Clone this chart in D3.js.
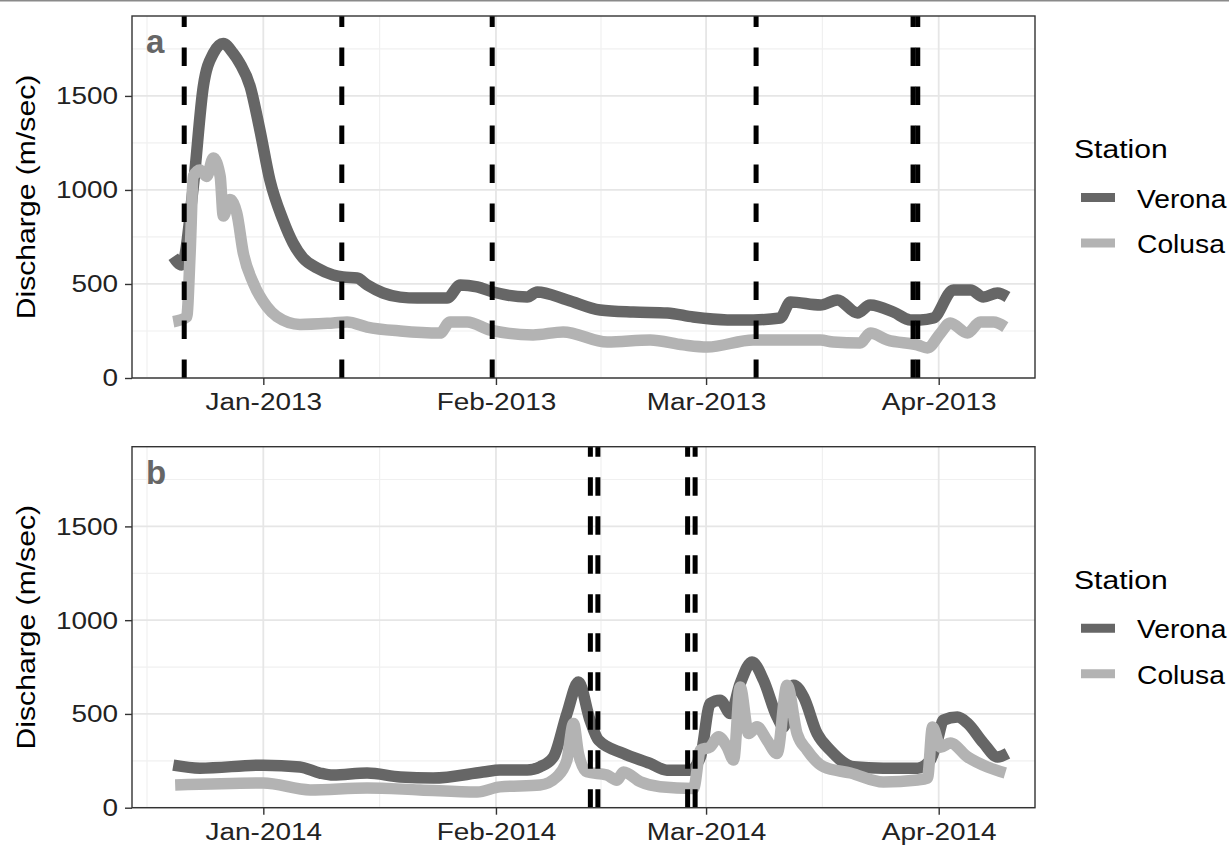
<!DOCTYPE html>
<meta charset="utf-8">
<head>
<title>Discharge</title>
<style>
body { margin: 0; background: #fff; }
svg { font-family: "Liberation Sans", Arial, sans-serif; }
</style>
</head>
<body>
<script src="https://d3js.org/d3.v7.min.js"></script>
<script>

// values: [date, discharge]
var stations = ["Verona", "Colusa"];
var stationColors = ["#666666", "#b3b3b3"];

var verona2013 = [
  ["2012-12-20T00", 645], ["2012-12-21T03", 601], ["2012-12-22T16", 1018], ["2012-12-24T00", 1550],
  ["2012-12-25T08", 1726], ["2012-12-26T16", 1779], ["2012-12-27T23", 1728], ["2012-12-28T21", 1673],
  ["2012-12-30T06", 1550], ["2012-12-31T13", 1319], ["2013-01-01T21", 1053], ["2013-01-03T15", 840],
  ["2013-01-04T23", 718], ["2013-01-06T07", 638], ["2013-01-08T04", 585], ["2013-01-10T07", 548],
  ["2013-01-11T15", 537], ["2013-01-13T12", 532], ["2013-01-14T20", 495], ["2013-01-16T23", 452],
  ["2013-01-19T06", 430], ["2013-01-21T12", 425], ["2013-01-25T12", 425], ["2013-01-27T06", 495],
  ["2013-01-29T12", 484], ["2013-01-31T15", 457], ["2013-02-05T04", 431], ["2013-02-06T12", 457],
  ["2013-02-10T12", 415], ["2013-02-14T21", 362], ["2013-02-19T07", 351], ["2013-02-23T20", 346],
  ["2013-02-27T07", 324], ["2013-03-03T20", 309], ["2013-03-07T07", 309], ["2013-03-10T21", 319],
  ["2013-03-12T06", 404], ["2013-03-16T06", 388], ["2013-03-18T12", 415], ["2013-03-21T04", 346],
  ["2013-03-22T21", 388], ["2013-03-25T23", 351], ["2013-03-28T06", 309], ["2013-03-29T13", 309],
  ["2013-03-31T07", 319], ["2013-04-02T23", 468], ["2013-04-05T06", 468], ["2013-04-06T23", 431],
  ["2013-04-08T20", 452], ["2013-04-10T04", 431]
];

var colusa2013 = [
  ["2012-12-20T00", 299], ["2012-12-21T19", 325], ["2012-12-22T06", 666], ["2012-12-22T16", 1072],
  ["2012-12-23T13", 1106], ["2012-12-24T11", 1072], ["2012-12-25T08", 1170], ["2012-12-26T06", 1072],
  ["2012-12-26T16", 861], ["2012-12-27T13", 949], ["2012-12-28T11", 878], ["2012-12-29T08", 664],
  ["2012-12-30T16", 505], ["2013-01-01T11", 380], ["2013-01-02T19", 327], ["2013-01-05T21", 285],
  ["2013-01-10T07", 293], ["2013-01-12T04", 298], ["2013-01-14T20", 271], ["2013-01-19T06", 250],
  ["2013-01-24T13", 239], ["2013-01-25T21", 298], ["2013-01-28T04", 298], ["2013-01-31T06", 255],
  ["2013-02-05T23", 229], ["2013-02-09T23", 245], ["2013-02-15T20", 191], ["2013-02-21T13", 202],
  ["2013-02-25T23", 176], ["2013-03-01T04", 165], ["2013-03-07T07", 202], ["2013-03-10T12", 202],
  ["2013-03-16T06", 202], ["2013-03-17T23", 191], ["2013-03-21T13", 186], ["2013-03-22T21", 239],
  ["2013-03-25T04", 202], ["2013-03-29T04", 176], ["2013-03-30T12", 160], ["2013-04-01T06", 239],
  ["2013-04-02T13", 293], ["2013-04-04T20", 239], ["2013-04-06T13", 298], ["2013-04-08T07", 298],
  ["2013-04-09T21", 271]
];

var verona2014 = [
  ["2013-12-20T00", 227], ["2013-12-23T13", 211], ["2013-12-31T23", 227], ["2014-01-05T21", 217],
  ["2014-01-08T13", 185], ["2014-01-10T07", 174], ["2014-01-14T20", 185], ["2014-01-19T06", 164],
  ["2014-01-23T15", 158], ["2014-01-30T07", 190], ["2014-02-01T13", 201], ["2014-02-05T04", 201],
  ["2014-02-06T21", 218], ["2014-02-08T16", 271], ["2014-02-10T11", 502], ["2014-02-12T00", 670],
  ["2014-02-13T13", 466], ["2014-02-14T16", 360], ["2014-02-18T00", 289], ["2014-02-21T13", 236],
  ["2014-02-23T19", 200], ["2014-02-26T21", 200], ["2014-02-28T06", 271], ["2014-03-01T13", 555],
  ["2014-03-02T21", 573], ["2014-03-04T06", 502], ["2014-03-05T13", 661], ["2014-03-07T03", 777],
  ["2014-03-08T16", 679], ["2014-03-10T11", 484], ["2014-03-11T08", 431], ["2014-03-12T16", 653],
  ["2014-03-14T00", 590], ["2014-03-15T19", 396], ["2014-03-17T13", 307], ["2014-03-20T16", 218],
  ["2014-03-24T15", 211], ["2014-03-29T04", 211], ["2014-03-30T21", 254], ["2014-03-31T20", 360],
  ["2014-04-01T15", 467], ["2014-04-03T12", 483], ["2014-04-04T20", 451], ["2014-04-06T23", 345],
  ["2014-04-08T20", 271], ["2014-04-10T04", 290]
];

var colusa2014 = [
  ["2013-12-20T06", 121], ["2014-01-01T00", 132], ["2014-01-07T06", 95], ["2014-01-14T20", 105],
  ["2014-01-21T21", 95], ["2014-01-29T12", 84], ["2014-02-01T13", 111], ["2014-02-06T21", 121],
  ["2014-02-09T03", 165], ["2014-02-10T11", 254], ["2014-02-11T08", 449], ["2014-02-12T00", 289],
  ["2014-02-13T03", 191], ["2014-02-15T19", 174], ["2014-02-17T03", 147], ["2014-02-18T00", 191],
  ["2014-02-20T06", 138], ["2014-02-22T21", 112], ["2014-02-27T08", 103], ["2014-02-28T06", 307],
  ["2014-03-01T13", 324], ["2014-03-02T16", 378], ["2014-03-03T19", 324], ["2014-03-04T16", 254],
  ["2014-03-05T13", 644], ["2014-03-06T16", 396], ["2014-03-07T19", 431], ["2014-03-09T03", 360],
  ["2014-03-10T11", 289], ["2014-03-11T19", 653], ["2014-03-13T03", 396], ["2014-03-14T11", 307],
  ["2014-03-16T16", 218], ["2014-03-20T06", 185], ["2014-03-24T15", 137], ["2014-03-29T04", 148],
  ["2014-03-30T12", 158], ["2014-03-31T04", 430], ["2014-04-01T06", 323], ["2014-04-02T13", 345],
  ["2014-04-04T20", 271], ["2014-04-07T12", 217], ["2014-04-09T21", 185]
];

// sampling events (dashed vertical lines)
var events2013 = ["2012-12-21T11", "2013-01-11T11", "2013-01-31T12", "2013-03-07T16", "2013-03-28T14", "2013-03-29T05"];
var events2014 = ["2014-02-13T14", "2014-02-14T14", "2014-02-26T13", "2014-02-27T13"];

var yTicks = [0, 500, 1000, 1500];
var yMinor = [250, 750, 1250, 1750];
var yMax = 1925;

var parseT = d3.timeParse("%Y-%m-%dT%H");

var svg = d3.select("body")
    .append("svg")
    .attr("width", 1229)
    .attr("height", 846);

// thin rule at the very top of the figure
svg.append("line")
    .attr("x1", 0).attr("x2", 1229)
    .attr("y1", 0.8).attr("y2", 0.8)
    .attr("stroke", "#8a8a8a")
    .attr("stroke-width", 1.6);

var left = 132, right = 1035;

function drawPanel(top, bottom, label, domain, series, events) {
  var x = d3.scaleTime()
      .domain([parseT(domain[0]), parseT(domain[1])])
      .range([left, right]);
  var y = d3.scaleLinear()
      .domain([0, yMax])
      .range([bottom, top]);

  var g = svg.append("g");

  // month breaks and their midpoints
  var months = d3.timeMonth.range(d3.timeMonth.floor(x.domain()[0]), d3.timeMonth.offset(x.domain()[1], 1));
  var majorX = months.filter(function(d) { return x(d) >= left && x(d) <= right; });
  var minorX = [];
  for (var i = 0; i < months.length - 1; i++) {
    var m = new Date((months[i].getTime() + months[i + 1].getTime()) / 2);
    if (x(m) > left && x(m) < right) minorX.push(m);
  }

  // minor grid
  g.selectAll(".gminy").data(yMinor).enter().append("line")
      .attr("x1", left).attr("x2", right)
      .attr("y1", function(d) { return y(d); }).attr("y2", function(d) { return y(d); })
      .attr("stroke", "#f0f0f0").attr("stroke-width", 1.2);
  g.selectAll(".gminx").data(minorX).enter().append("line")
      .attr("x1", function(d) { return x(d); }).attr("x2", function(d) { return x(d); })
      .attr("y1", top).attr("y2", bottom)
      .attr("stroke", "#f0f0f0").attr("stroke-width", 1.2);
  // major grid
  g.selectAll(".gmajy").data(yTicks).enter().append("line")
      .attr("x1", left).attr("x2", right)
      .attr("y1", function(d) { return y(d); }).attr("y2", function(d) { return y(d); })
      .attr("stroke", "#e6e6e6").attr("stroke-width", 1.8);
  g.selectAll(".gmajx").data(majorX).enter().append("line")
      .attr("x1", function(d) { return x(d); }).attr("x2", function(d) { return x(d); })
      .attr("y1", top).attr("y2", bottom)
      .attr("stroke", "#e6e6e6").attr("stroke-width", 1.8);

  // discharge lines
  var valueline = d3.line()
      .x(function(d) { return x(parseT(d[0])); })
      .y(function(d) { return y(d[1]); })
      .curve(d3.curveMonotoneX);

  series.forEach(function(s, k) {
    g.append("path")
        .attr("d", valueline(s))
        .attr("fill", "none")
        .attr("stroke", stationColors[k])
        .attr("stroke-width", 11.5)
        .attr("stroke-linejoin", "round");
  });

  // event lines, dashed from the bottom up
  g.selectAll(".event").data(events).enter().append("line")
      .attr("x1", function(d) { return x(parseT(d)); })
      .attr("x2", function(d) { return x(parseT(d)); })
      .attr("y1", bottom).attr("y2", top)
      .attr("stroke", "#000")
      .attr("stroke-width", 5)
      .attr("stroke-dasharray", "18.5 20.5");

  // panel border
  g.append("rect")
      .attr("x", left).attr("y", top)
      .attr("width", right - left).attr("height", bottom - top)
      .attr("fill", "none")
      .attr("stroke", "#333")
      .attr("stroke-width", 1.4);

  // axes
  var yAxis = g.append("g")
      .attr("transform", "translate(" + left + ",0)")
      .call(d3.axisLeft(y).tickValues(yTicks).tickFormat(d3.format("d")).tickSize(7).tickSizeOuter(0));
  yAxis.select(".domain").remove();
  yAxis.selectAll(".tick line").attr("stroke", "#333").attr("stroke-width", 1.4);
  yAxis.selectAll(".tick text")
      .attr("x", -14 / 1.14)
      .attr("transform", "scale(1.14,1)")
      .attr("fill", "#222")
      .style("font-size", "24.5px");

  var xAxis = g.append("g")
      .attr("transform", "translate(0," + bottom + ")")
      .call(d3.axisBottom(x).tickValues(majorX).tickFormat(d3.timeFormat("%b-%Y")).tickSize(7).tickSizeOuter(0));
  xAxis.select(".domain").remove();
  xAxis.selectAll(".tick line").attr("stroke", "#333").attr("stroke-width", 1.4);
  xAxis.selectAll(".tick text")
      .attr("y", 15)
      .attr("transform", "scale(1.14,1)")
      .attr("fill", "#222")
      .style("font-size", "24.5px");

  // y title
  g.append("text")
      .attr("transform", "translate(35," + ((top + bottom) / 2) + ") rotate(-90) scale(1.16,1)")
      .attr("text-anchor", "middle")
      .attr("fill", "#000")
      .style("font-size", "26px")
      .text("Discharge (m/sec)");

  // panel letter
  g.append("text")
      .attr("x", 146).attr("y", top + 37.3)
      .attr("fill", "#666")
      .style("font-size", "33px")
      .style("font-weight", "bold")
      .text(label);

  // legend
  var lg = g.append("g").attr("transform", "translate(0," + (top - 16) + ")");
  lg.append("text")
      .attr("transform", "translate(1074,158.3) scale(1.18,1)")
      .attr("fill", "#000")
      .style("font-size", "25.5px")
      .text("Station");
  stations.forEach(function(s, k) {
    var base = 207.5 + k * 45.5;
    lg.append("line")
        .attr("x1", 1081).attr("x2", 1115)
        .attr("y1", base - 10).attr("y2", base - 10)
        .attr("stroke", stationColors[k])
        .attr("stroke-width", 9);
    lg.append("text")
        .attr("transform", "translate(1137," + base + ") scale(1.13,1)")
        .attr("fill", "#000")
        .style("font-size", "25px")
        .text(s);
  });
}

drawPanel(16, 378, "a", ["2012-12-14T12", "2013-04-13T20"], [verona2013, colusa2013], events2013);
drawPanel(446.7, 807.7, "b", ["2013-12-14T12", "2014-04-13T20"], [verona2014, colusa2014], events2014);

</script>
</body>
